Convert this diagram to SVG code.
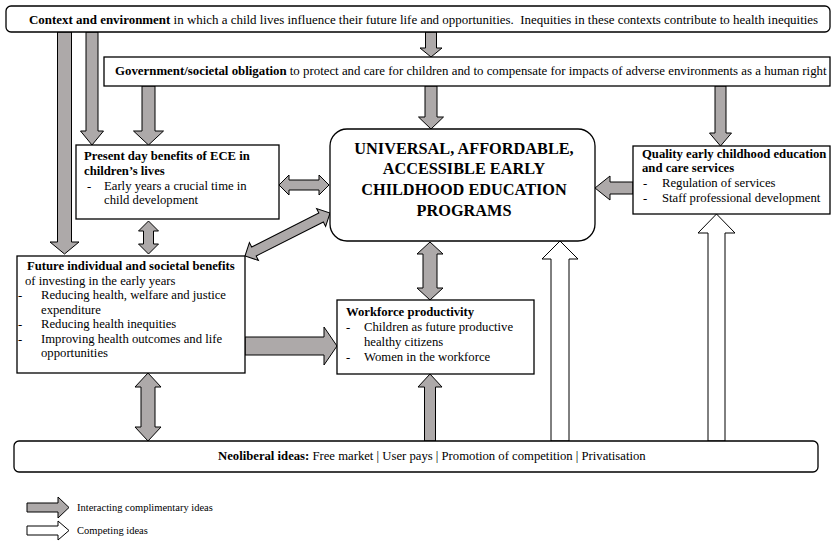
<svg xmlns="http://www.w3.org/2000/svg" width="832" height="544" viewBox="0 0 832 544">
<style>
text{font-family:"Liberation Serif","Times New Roman",serif;fill:#000;font-size:12.7px}
.b{font-weight:bold}
.box{fill:#fff;stroke:#000;stroke-width:1.3}
.ga{fill:#ada9a9;stroke:#000;stroke-width:1}
.wa{fill:#fff;stroke:#000;stroke-width:1}
.title{font-size:16.3px;font-weight:bold;text-anchor:middle}
.leg{font-size:10.5px}
</style>
<rect width="832" height="544" fill="#fff"/>
<g id="connectors">
<polygon class="ga" points="57.5,32 71.5,32 71.5,242 79,242 64.5,254 50,242 57.5,242"/>
<polygon class="ga" points="86,32 98,32 98,131 103.5,131 92,145 80.5,131 86,131"/>
<polygon class="ga" points="425.5,32 436.5,32 436.5,48 442,48 431,57 420,48 425.5,48"/>
<polygon class="ga" points="142,86 155,86 155,131 163.5,131 148.5,145 133.5,131 142,131"/>
<polygon class="ga" points="425,86 437,86 437,117 443.5,117 431,129 418.5,117 425,117"/>
<polygon class="ga" points="715,86 726,86 726,133 731.5,133 720.5,146 709.5,133 715,133"/>
<polygon class="ga" points="633,182 610,182 610,176 595,188 610,200 610,194 633,194"/>
<polygon class="ga" points="279,185 289,175 289,180 319,180 319,175 329,185 319,195 319,190 289,190 289,195"/>
<polygon class="ga" points="148.5,221 158.5,231 153.5,231 153.5,244 158.5,244 148.5,254 138.5,244 143.5,244 143.5,231 138.5,231"/>
<polygon class="ga" transform="translate(245,256) rotate(-26.84)" points="0,0 10,-10 10,-5 85.3,-5 85.3,-10 95.3,0 85.3,10 85.3,5 10,5 10,10"/>
<polygon class="ga" points="430,242 443,254 437,254 437,288 443,288 430,300 417,288 423,288 423,254 417,254"/>
<polygon class="ga" points="245,337 324,337 324,327 337,346 324,365 324,355 245,355"/>
<polygon class="ga" points="148,373 161,387 155,387 155,427 161,427 148,441 135,427 141,427 141,387 135,387"/>
<polygon class="ga" points="424.5,441 435.5,441 435.5,387 442,387 430,374 418,387 424.5,387"/>
<polygon class="wa" points="551,441 569,441 569,259 578,259 560,241 542,259 551,259"/>
<polygon class="wa" points="708,441 725,441 725,233 735,233 716.5,214 698,233 708,233"/>
</g>
<g id="context">
<rect class="box" x="6" y="6" width="824" height="26" rx="5"/>
<text x="29" y="24" style="font-size:12.95px"><tspan class="b">Context and environment</tspan> in which a child lives influence their future life and opportunities.&#160; Inequities in these contexts contribute to health inequities</text>
</g>
<g id="government">
<rect class="box" x="104" y="57" width="726" height="29"/>
<text x="115" y="75" style="font-size:12.85px"><tspan class="b">Government/societal obligation</tspan> to protect and care for children and to compensate for impacts of adverse environments as a human right</text>
</g>
<g id="present">
<rect class="box" x="76" y="145" width="203" height="74"/>
<text class="b" x="84" y="160">Present day benefits of ECE in</text>
<text class="b" x="84" y="175">children’s lives</text>
<text x="87" y="190">-</text>
<text x="104" y="190">Early years a crucial time in</text>
<text x="104" y="204">child development</text>
</g>
<g id="universal">
<rect class="box" x="330" y="129" width="265" height="112" rx="17"/>
<text class="title" x="464" y="153.5">UNIVERSAL, AFFORDABLE,</text>
<text class="title" x="464" y="174">ACCESSIBLE EARLY</text>
<text class="title" x="464" y="195">CHILDHOOD EDUCATION</text>
<text class="title" x="464" y="215.5">PROGRAMS</text>
</g>
<g id="quality">
<rect class="box" x="633" y="146" width="197" height="68"/>
<text class="b" x="642" y="158">Quality early childhood education</text>
<text class="b" x="642" y="172">and care services</text>
<text x="643" y="187">-</text>
<text x="662" y="187">Regulation of services</text>
<text x="643" y="202">-</text>
<text x="662" y="202">Staff professional development</text>
</g>
<g id="future">
<rect class="box" x="17" y="256" width="228" height="117"/>
<text class="b" x="27" y="270">Future individual and societal benefits</text>
<text x="25" y="284.5">of investing in the early years</text>
<text x="18" y="299">-</text>
<text x="41" y="299">Reducing health, welfare and justice</text>
<text x="41" y="313.5">expenditure</text>
<text x="18" y="328">-</text>
<text x="41" y="328">Reducing health inequities</text>
<text x="18" y="342.5">-</text>
<text x="41" y="342.5">Improving health outcomes and life</text>
<text x="41" y="357">opportunities</text>
</g>
<g id="workforce">
<rect class="box" x="337" y="300" width="197" height="74"/>
<text class="b" x="346" y="316">Workforce productivity</text>
<text x="346" y="331">-</text>
<text x="364" y="331">Children as future productive</text>
<text x="364" y="346">healthy citizens</text>
<text x="346" y="361">-</text>
<text x="364" y="361">Women in the workforce</text>
</g>
<g id="neoliberal">
<rect class="box" x="14" y="441" width="804" height="31" rx="5"/>
<text x="218" y="460"><tspan class="b">Neoliberal ideas:</tspan> Free market | User pays | Promotion of competition | Privatisation</text>
</g>
<g id="legend">
<polygon class="ga" points="27,503 58,503 58,497 69,507.5 58,518 58,512 27,512"/>
<text class="leg" x="77" y="511">Interacting complimentary ideas</text>
<polygon class="wa" points="27,526 58,526 58,521 69,530.5 58,540 58,535 27,535"/>
<text class="leg" x="77" y="534">Competing ideas</text>
</g>
</svg>
